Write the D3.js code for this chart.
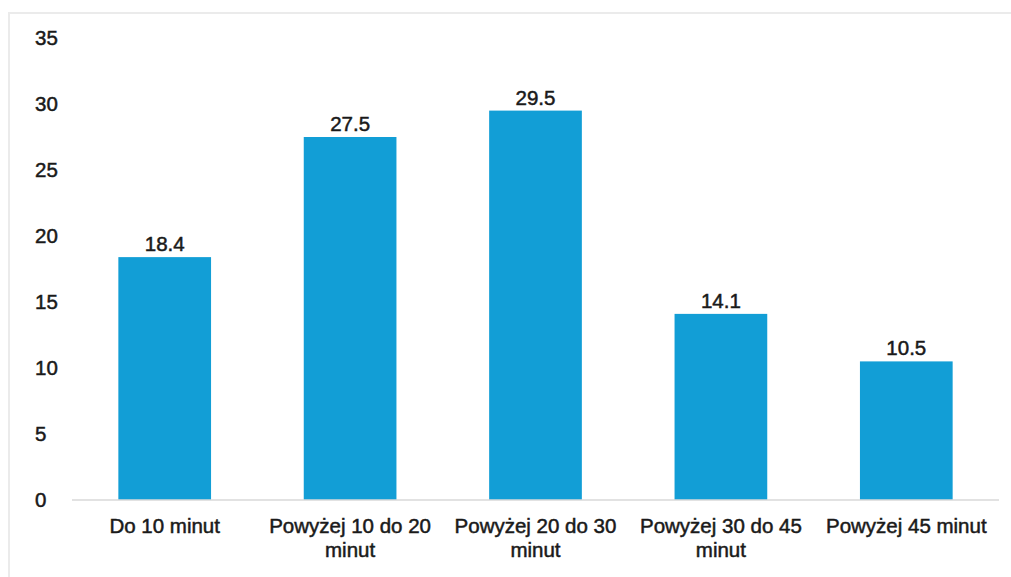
<!DOCTYPE html>
<html>
<head>
<meta charset="utf-8">
<script src="https://cdn.jsdelivr.net/npm/d3@7"></script>
<style>
  body { margin: 0; background: #fff; }
  svg text { font-family: "Liberation Sans", Arial, sans-serif; fill: #1a1a1a; stroke: #1a1a1a; stroke-width: 0.5px; }
</style>
</head>
<body>
<div id="chart"></div>
<script>
/* data */
var categories = [
	["Do 10 minut"],
	["Powyżej 10 do 20", "minut"],
	["Powyżej 20 do 30", "minut"],
	["Powyżej 30 do 45", "minut"],
	["Powyżej 45 minut"]
];
var values = [18.4, 27.5, 29.5, 14.1, 10.5];
var yTicks = [0, 5, 10, 15, 20, 25, 30, 35];

var width = 1011, height = 577;
var fs = "20.5px";

var svg = d3.select("#chart").append("svg")
	.attr("width", width)
	.attr("height", height);

/* frame */
svg.append("path")
	.attr("d", "M9,577 V13 H1011")
	.attr("fill", "none")
	.attr("stroke", "#ebebeb")
	.attr("stroke-width", 2);

var x = d3.scaleBand()
	.domain(d3.range(values.length))
	.range([72, 999])
	.paddingInner(0.5)
	.paddingOuter(0.25);

var y = d3.scaleLinear()
	.domain([0, 35])
	.range([500, 38]);

/* y labels, left aligned */
svg.selectAll(".ytick")
	.data(yTicks)
	.enter().append("text")
	.attr("class", "ytick")
	.attr("x", 35)
	.attr("y", function(d) { return y(d); })
	.attr("dy", "0.36em")
	.style("font-size", fs)
	.text(function(d) { return d; });

/* bars */
svg.selectAll(".bar")
	.data(values)
	.enter().append("rect")
	.attr("class", "bar")
	.attr("x", function(d, i) { return x(i); })
	.attr("y", function(d) { return y(d); })
	.attr("width", x.bandwidth())
	.attr("height", function(d) { return y(0) - y(d); })
	.attr("fill", "#129ed6");

/* baseline */
svg.append("line")
	.attr("x1", 72).attr("x2", 999)
	.attr("y1", y(0)).attr("y2", y(0))
	.attr("stroke", "#d9d9d9")
	.attr("stroke-width", 1.5);

/* value labels */
svg.selectAll(".val")
	.data(values)
	.enter().append("text")
	.attr("class", "val")
	.attr("text-anchor", "middle")
	.attr("x", function(d, i) { return x(i) + x.bandwidth() / 2; })
	.attr("y", function(d) { return y(d) - 6; })
	.style("font-size", fs)
	.text(function(d) { return d.toFixed(1); });

/* category labels */
var cat = svg.selectAll(".cat")
	.data(categories)
	.enter().append("text")
	.attr("class", "cat")
	.attr("text-anchor", "middle")
	.style("font-size", fs);

cat.selectAll("tspan")
	.data(function(d, i) { return d.map(function(t) { return {t: t, i: i}; }); })
	.enter().append("tspan")
	.attr("x", function(d) { return x(d.i) + x.bandwidth() / 2; })
	.attr("y", function(d, j) { return 533 + j * 24; })
	.text(function(d) { return d.t; });
</script>
</body>
</html>
